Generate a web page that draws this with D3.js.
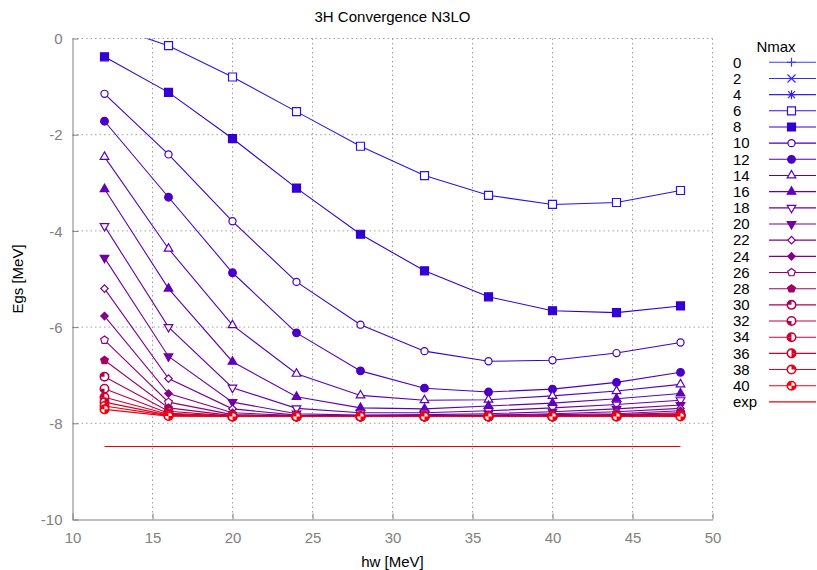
<!DOCTYPE html>
<html>
<head>
<meta charset="utf-8">
<script src="https://cdn.jsdelivr.net/npm/d3@7"></script>
<style>
body { margin: 0; background: #fff; }
text { font-family: "Liberation Sans", Arial, sans-serif; }
</style>
</head>
<body>
<script>
// oscillator frequencies (x values)
var hw = [12, 16, 20, 24, 28, 32, 36, 40, 44, 48];

// ground state energy per Nmax (0-4 sit above the frame)
var egsN0  = [8.5, 7.2, 6.8, 7.0, 7.6, 8.4, 9.3, 10.3, 11.4, 12.5];
var egsN2  = [4.5, 3.2, 2.6, 2.5, 2.7, 3.0, 3.4, 3.9, 4.4, 5.0];
var egsN4  = [2.2, 1.5, 1.0, 0.7, 0.6, 0.6, 0.7, 0.9, 1.2, 1.5];
var egsN6  = [0.3, -0.15, -0.80, -1.52, -2.24, -2.85, -3.26, -3.45, -3.41, -3.16];
var egsN8  = [-0.38, -1.12, -2.08, -3.11, -4.07, -4.83, -5.37, -5.66, -5.70, -5.56];
var egsN10 = [-1.15, -2.41, -3.80, -5.06, -5.95, -6.50, -6.71, -6.69, -6.54, -6.32];
var egsN12 = [-1.72, -3.30, -4.87, -6.12, -6.91, -7.27, -7.35, -7.29, -7.15, -6.94];
var egsN14 = [-2.46, -4.37, -5.96, -6.97, -7.42, -7.52, -7.51, -7.43, -7.33, -7.19];
var egsN16 = [-3.13, -5.20, -6.72, -7.45, -7.68, -7.70, -7.64, -7.58, -7.49, -7.38];
var egsN18 = [-3.90, -6.00, -7.26, -7.69, -7.78, -7.78, -7.74, -7.68, -7.61, -7.52];
var egsN20 = [-4.56, -6.61, -7.56, -7.80, -7.83, -7.82, -7.80, -7.76, -7.70, -7.62];
var egsN22 = [-5.20, -7.07, -7.70, -7.83, -7.85, -7.84, -7.83, -7.80, -7.76, -7.69];
var egsN24 = [-5.77, -7.38, -7.78, -7.84, -7.85, -7.85, -7.84, -7.82, -7.80, -7.74];
var egsN26 = [-6.27, -7.56, -7.82, -7.85, -7.85, -7.85, -7.85, -7.84, -7.82, -7.78];
var egsN28 = [-6.69, -7.68, -7.84, -7.85, -7.86, -7.86, -7.85, -7.85, -7.83, -7.80];
var egsN30 = [-7.03, -7.75, -7.85, -7.86, -7.86, -7.86, -7.86, -7.85, -7.84, -7.82];
var egsN32 = [-7.28, -7.79, -7.85, -7.86, -7.86, -7.86, -7.86, -7.86, -7.85, -7.83];
var egsN34 = [-7.46, -7.81, -7.86, -7.86, -7.86, -7.86, -7.86, -7.86, -7.85, -7.84];
var egsN36 = [-7.56, -7.83, -7.86, -7.86, -7.86, -7.86, -7.86, -7.86, -7.86, -7.85];
var egsN38 = [-7.64, -7.84, -7.86, -7.86, -7.86, -7.86, -7.86, -7.86, -7.86, -7.85];
var egsN40 = [-7.71, -7.85, -7.86, -7.86, -7.86, -7.86, -7.86, -7.86, -7.86, -7.86];

var nmaxLabels = ['0', '2', '4', '6', '8', '10', '12', '14', '16', '18', '20',
                  '22', '24', '26', '28', '30', '32', '34', '36', '38', '40'];
var nmaxValues = [egsN0, egsN2, egsN4, egsN6, egsN8, egsN10, egsN12, egsN14, egsN16, egsN18, egsN20,
                  egsN22, egsN24, egsN26, egsN28, egsN30, egsN32, egsN34, egsN36, egsN38, egsN40];

// experimental 3H binding energy, drawn across the hw range
var expLabel = 'exp';
var expValue = -8.482;

var xTicks = [10, 15, 20, 25, 30, 35, 40, 45, 50];
var yTicks = [-10, -8, -6, -4, -2, 0];

var ConvChart = function(config) {
    this.setupSettings(config);
    this.setupMarkers();
    this.createSVG();
    this.createGrid();
    this.createAxes();
    this.createSeries();
    this.createExp();
    this.createLegend();
    this.createLabels();
}

ConvChart.prototype.setupSettings = function(config) {
    this.width =    config.width;
    this.height =   config.height;
    this.font =     '"Liberation Sans", Arial, sans-serif';
    this.plot = { left: 72.5, right: 712.5, top: 38.5, bottom: 519.5 };

    this.x = d3.scaleLinear().domain([10, 50]).range([this.plot.left, this.plot.right]);
    this.y = d3.scaleLinear().domain([-10, 0]).range([this.plot.bottom, this.plot.top]);

    this.color = d3.scaleLinear()
        .domain([0, 8, 16, 24, 32, 40])
        .range(['#3c3cff', '#3300d4', '#6000b8', '#84008c', '#c0003c', '#f4000c']);
}

ConvChart.prototype.setupMarkers = function() {
    // gnuplot-like point types, one per Nmax
    var pentagon = function(r) {
        var pts = [];
        for (var i = 0; i < 5; i++) {
            var a = -Math.PI / 2 + i * 2 * Math.PI / 5;
            pts.push([r * Math.cos(a), r * Math.sin(a)]);
        }
        return 'M' + pts.join('L') + 'Z';
    }
    var quarters = function(mask) {
        return { kind: 'quarter', mask: mask };
    }
    this.markers = [
        { kind: 'plus' }, { kind: 'cross' }, { kind: 'star' },
        { kind: 'path', d: d3.symbol(d3.symbolSquare, 64)(), fill: false },
        { kind: 'path', d: d3.symbol(d3.symbolSquare, 64)(), fill: true },
        { kind: 'path', d: d3.symbol(d3.symbolCircle, 40)(), fill: false },
        { kind: 'path', d: d3.symbol(d3.symbolCircle, 46)(), fill: true },
        { kind: 'path', d: d3.symbol(d3.symbolTriangle, 32)(), fill: false },
        { kind: 'path', d: d3.symbol(d3.symbolTriangle, 32)(), fill: true },
        { kind: 'path', d: d3.symbol(d3.symbolTriangle, 32)(), fill: false, rot: 180 },
        { kind: 'path', d: d3.symbol(d3.symbolTriangle, 32)(), fill: true, rot: 180 },
        { kind: 'path', d: d3.symbol(d3.symbolSquare, 28)(), fill: false, rot: 45 },
        { kind: 'path', d: d3.symbol(d3.symbolSquare, 28)(), fill: true, rot: 45 },
        { kind: 'path', d: pentagon(4), fill: false },
        { kind: 'path', d: pentagon(4), fill: true },
        quarters([3]), quarters([2]), quarters([2, 3]), quarters([0, 1]), quarters([0]), quarters([1, 3])
    ];
}

ConvChart.prototype.drawMarker = function(g, m, col) {
    if (m.kind === 'plus') {
        g.append('path').attr('d', 'M-4.5,0H4.5M0,-4.5V4.5').attr('stroke', col).attr('stroke-width', 1.2);
    } else if (m.kind === 'cross') {
        g.append('path').attr('d', 'M-4,-4L4,4M-4,4L4,-4').attr('stroke', col).attr('stroke-width', 1.2);
    } else if (m.kind === 'star') {
        g.append('path').attr('d', 'M-4.5,0H4.5M0,-4.5V4.5M-3.5,-3.5L3.5,3.5M-3.5,3.5L3.5,-3.5')
            .attr('stroke', col).attr('stroke-width', 1.2);
    } else if (m.kind === 'path') {
        g.append('path').attr('d', m.d)
            .attr('transform', m.rot ? 'rotate(' + m.rot + ')' : null)
            .attr('fill', m.fill ? col : '#fff')
            .attr('stroke', col).attr('stroke-width', 1.2);
    } else {
        var r = 4.2;
        g.append('circle').attr('r', r).attr('fill', '#fff').attr('stroke', col).attr('stroke-width', 1.6);
        var arc = d3.arc().innerRadius(0).outerRadius(r);
        m.mask.forEach(function(q) {
            g.append('path')
                .attr('d', arc({ startAngle: q * Math.PI / 2, endAngle: (q + 1) * Math.PI / 2 }))
                .attr('fill', col);
        });
    }
}

ConvChart.prototype.createSVG = function() {
    this.svg = d3.select('body').append('svg')
        .attr('width', this.width)
        .attr('height', this.height);
    this.svg.append('defs').append('clipPath').attr('id', 'plotClip')
        .append('rect')
        .attr('x', this.plot.left).attr('y', this.plot.top)
        .attr('width', this.plot.right - this.plot.left)
        .attr('height', this.plot.bottom - this.plot.top);
}

ConvChart.prototype.createGrid = function() {
    var obj = this;
    var g = this.svg.append('g').attr('class', 'grid');
    g.selectAll('.vgrid')
        .data(xTicks.filter(function(d) { return d > 10; }))
        .enter().append('line')
        .attr('x1', function(d) { return obj.x(d); })
        .attr('x2', function(d) { return obj.x(d); })
        .attr('y1', this.plot.top).attr('y2', this.plot.bottom)
        .attr('stroke', '#a0a0a0').attr('stroke-width', 1)
        .attr('stroke-dasharray', '1.5,3');
    g.selectAll('.hgrid')
        .data(yTicks.filter(function(d) { return d > -10; }))
        .enter().append('line')
        .attr('x1', this.plot.left).attr('x2', this.plot.right)
        .attr('y1', function(d) { return obj.y(d); })
        .attr('y2', function(d) { return obj.y(d); })
        .attr('stroke', '#a0a0a0').attr('stroke-width', 1)
        .attr('stroke-dasharray', '1.5,3');
}

ConvChart.prototype.createAxes = function() {
    var obj = this;
    var plain = function(d) { return String(d); };
    var xAxis = this.svg.append('g')
        .attr('transform', 'translate(0,' + this.plot.bottom + ')')
        .call(d3.axisBottom(this.x).tickValues(xTicks).tickFormat(plain)
            .tickSizeInner(-6).tickSizeOuter(0).tickPadding(10));
    var yAxis = this.svg.append('g')
        .attr('transform', 'translate(' + this.plot.left + ',0)')
        .call(d3.axisLeft(this.y).tickValues(yTicks).tickFormat(plain)
            .tickSizeInner(-6).tickSizeOuter(0).tickPadding(10));

    [xAxis, yAxis].forEach(function(a) {
        a.select('.domain').attr('stroke', '#808080');
        a.selectAll('.tick line').attr('stroke', '#808080');
        a.selectAll('.tick text')
            .attr('fill', '#808080')
            .style('font-size', '15px')
            .style('font-family', obj.font);
    });
    xAxis.selectAll('.tick text').attr('dy', '0.9em');
    yAxis.selectAll('.tick text').attr('dy', '0.35em').attr('x', -10);
}

ConvChart.prototype.createSeries = function() {
    var obj = this;
    var line = d3.line()
        .x(function(d) { return obj.x(d.hw); })
        .y(function(d) { return obj.y(d.egs); });
    var plotArea = this.svg.append('g').attr('clip-path', 'url(#plotClip)');

    nmaxValues.forEach(function(vals, i) {
        var col = obj.color(+nmaxLabels[i]);
        var pts = hw.map(function(h, j) { return { hw: h, egs: vals[j] }; });
        var s = plotArea.append('g').attr('class', 'series');
        s.append('path')
            .attr('d', line(pts))
            .attr('fill', 'none')
            .attr('stroke', col)
            .attr('stroke-width', 1.1);
        pts.forEach(function(p) {
            var mg = s.append('g')
                .attr('transform', 'translate(' + obj.x(p.hw) + ',' + obj.y(p.egs) + ')');
            obj.drawMarker(mg, obj.markers[i], col);
        });
    });
}

ConvChart.prototype.createExp = function() {
    this.svg.append('line')
        .attr('x1', this.x(hw[0])).attr('x2', this.x(hw[hw.length - 1]))
        .attr('y1', this.y(expValue)).attr('y2', this.y(expValue))
        .attr('stroke', '#ee0000').attr('stroke-width', 1.2);
}

ConvChart.prototype.createLegend = function() {
    var obj = this;
    var lg = this.svg.append('g').attr('class', 'legend');
    var top = 62.3, step = 16.17;

    lg.append('text')
        .attr('x', 776).attr('y', 47).attr('dy', '0.35em')
        .attr('text-anchor', 'middle')
        .style('font-size', '15px')
        .style('font-family', this.font)
        .text('Nmax');

    var rows = nmaxLabels.concat([expLabel]);
    rows.forEach(function(lab, i) {
        var yy = top + i * step;
        var isExp = i === nmaxLabels.length;
        var col = isExp ? '#ee0000' : obj.color(+lab);
        lg.append('text')
            .attr('x', 733).attr('y', yy).attr('dy', '0.35em')
            .style('font-size', '15px')
            .style('font-family', obj.font)
            .text(lab);
        lg.append('line')
            .attr('x1', 769).attr('x2', 816)
            .attr('y1', yy).attr('y2', yy)
            .attr('stroke', col).attr('stroke-width', 1.1);
        if (!isExp) {
            var mg = lg.append('g').attr('transform', 'translate(791.5,' + yy + ')');
            obj.drawMarker(mg, obj.markers[i], col);
        }
    });
}

ConvChart.prototype.createLabels = function() {
    var mid = (this.plot.left + this.plot.right) / 2;
    this.svg.append('text')
        .attr('x', mid).attr('y', 17).attr('dy', '0.35em')
        .attr('text-anchor', 'middle')
        .style('font-size', '15px').style('font-family', this.font)
        .text('3H Convergence N3LO');
    this.svg.append('text')
        .attr('x', mid).attr('y', 562).attr('dy', '0.35em')
        .attr('text-anchor', 'middle')
        .style('font-size', '15px').style('font-family', this.font)
        .text('hw [MeV]');
    this.svg.append('text')
        .attr('transform', 'translate(18,' + (this.plot.top + this.plot.bottom) / 2 + ') rotate(-90)')
        .attr('dy', '0.35em')
        .attr('text-anchor', 'middle')
        .style('font-size', '15px').style('font-family', this.font)
        .text('Egs [MeV]');
}

var chart = new ConvChart({ width: 817, height: 570 });
</script>
</body>
</html>
